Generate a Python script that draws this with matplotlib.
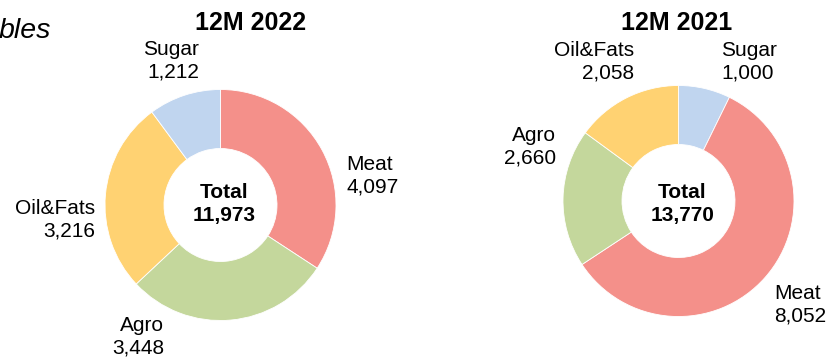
import matplotlib
matplotlib.use("Agg")
import matplotlib.pyplot as plt

plt.rcParams["font.family"] = ["Liberation Sans", "DejaVu Sans"]

# segment revenue, kt
labels_2022 = ["Meat", "Agro", "Oil&Fats", "Sugar"]
values_2022 = [4097, 3448, 3216, 1212]

labels_2021 = ["Sugar", "Meat", "Agro", "Oil&Fats"]
values_2021 = [1000, 8052, 2660, 2058]

seg_colors = {
    "Meat": "#F4908A",
    "Agro": "#C4D79C",
    "Oil&Fats": "#FFD272",
    "Sugar": "#C0D5EF",
}

W, H = 830, 359
fig = plt.figure(figsize=(W / 100, H / 100), dpi=100)
ax = fig.add_axes([0, 0, 1, 1])


def px(y):
    # pixel rows run top-down
    return H - y


def donut(cx, cy, labels, values, title, tx, label_pos):
    ax.pie(values, colors=[seg_colors[l] for l in labels], startangle=90,
           counterclock=False, center=(cx, px(cy)), radius=115.5,
           wedgeprops=dict(width=59, edgecolor="white", linewidth=0.6),
           frame=True)
    ax.text(tx, px(23), title, ha="center", va="center", fontsize=18,
            fontweight="bold")
    ax.text(cx + 4, px(204), f"Total\n{sum(values):,}", ha="center",
            va="center", fontsize=15, fontweight="bold", linespacing=1.25)
    for lab, val in zip(labels, values):
        x, y, ha = label_pos[lab]
        ax.text(x, px(y), f"{lab}\n{val:,}", ha=ha, va="center",
                fontsize=15, linespacing=1.25)


pos_2022 = {
    "Meat": (346, 176, "left"),
    "Agro": (164, 337, "right"),
    "Oil&Fats": (95, 220, "right"),
    "Sugar": (199, 61, "right"),
}
pos_2021 = {
    "Sugar": (721, 62, "left"),
    "Meat": (774, 305, "left"),
    "Agro": (556, 147, "right"),
    "Oil&Fats": (634, 62, "right"),
}

donut(220.5, 205, labels_2022, values_2022, "12M 2022", 250.5, pos_2022)
donut(678.5, 201, labels_2021, values_2021, "12M 2021", 676.5, pos_2021)

ax.set_xlim(0, W)
ax.set_ylim(0, H)
ax.set_aspect("equal")
ax.axis("off")

ax.text(-1, px(37.5), "bles", ha="left", va="baseline", fontsize=20.5,
        fontstyle="italic")

fig.savefig("out.png", dpi=100)
